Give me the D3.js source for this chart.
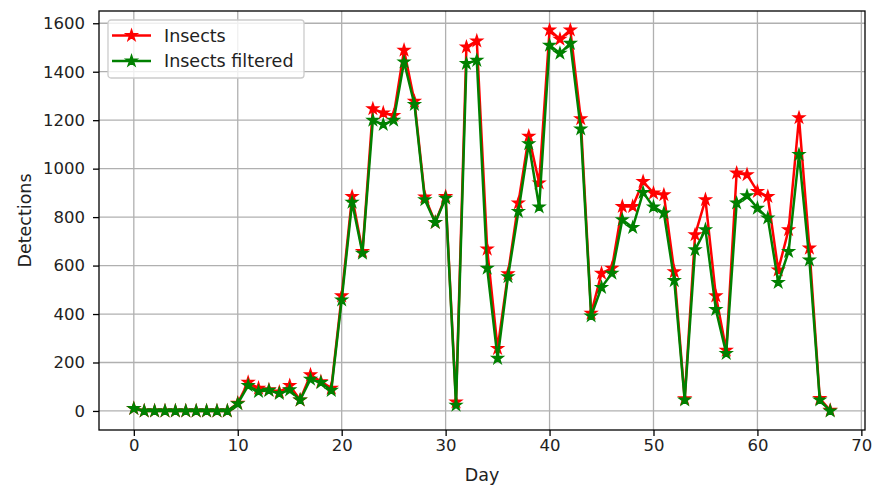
<!DOCTYPE html>
<html>
<head>
<meta charset="utf-8">
<script src="https://cdn.jsdelivr.net/npm/d3@7"></script>
<style>
  body { margin: 0; background: #fff; }
  svg text { font-family: "DejaVu Sans", sans-serif; fill: #222; }
</style>
</head>
<body>
<svg id="chart" width="873" height="486"></svg>
<script>
// detections per day
var insects = [10, 0, 0, 0, 0, 0, 0, 0, 0, 0,
    32, 118, 94, 87, 78, 105, 45, 149, 121, 94,
    475, 885, 658, 1247, 1230, 1219, 1489, 1278, 883, 778,
    885, 37, 1502, 1527, 668, 258, 566, 858, 1134, 941,
    1572, 1534, 1572, 1206, 403, 568, 589, 844, 844, 947,
    899, 892, 575, 50, 727, 872, 475, 251, 982, 975,
    906, 885, 582, 748, 1210, 672, 51, 3];
var insectsFiltered = [10, 0, 0, 0, 0, 0, 0, 0, 0, 0,
    30, 105, 80, 85, 72, 87, 45, 131, 117, 85,
    458, 861, 651, 1200, 1182, 1200, 1440, 1265, 872, 778,
    878, 24, 1434, 1447, 589, 217, 554, 823, 1103, 842,
    1509, 1476, 1517, 1164, 392, 510, 568, 789, 757, 902,
    842, 817, 538, 45, 665, 748, 419, 237, 858, 888,
    837, 796, 530, 658, 1058, 623, 45, 0];
var days = d3.range(insects.length);
var xTicks = [0, 10, 20, 30, 40, 50, 60, 70];
var yTicks = [0, 200, 400, 600, 800, 1000, 1200, 1400, 1600];
var seriesNames = ["Insects", "Insects filtered"];
var seriesColors = ["#ff0000", "#008000"];

var svg = d3.select("#chart");
var mLeft = 99, mRight = 865, mTop = 11, mBottom = 430;

// matplotlib style 5% margins
var xMax = d3.max(days);
var yMax = d3.max(insects.concat(insectsFiltered));
var x = d3.scaleLinear().domain([-0.05 * xMax, xMax * 1.05]).range([mLeft, mRight]);
var y = d3.scaleLinear().domain([-0.05 * yMax, yMax * 1.05]).range([mBottom, mTop]);

var g = svg.append("g");

// grid
g.append("g").selectAll("line").data(xTicks).enter().append("line")
    .attr("x1", function (d) { return x(d); }).attr("x2", function (d) { return x(d); })
    .attr("y1", mTop).attr("y2", mBottom)
    .attr("stroke", "#b0b0b0").attr("stroke-width", 1.3);
g.append("g").selectAll("line").data(yTicks).enter().append("line")
    .attr("y1", function (d) { return y(d); }).attr("y2", function (d) { return y(d); })
    .attr("x1", mLeft).attr("x2", mRight)
    .attr("stroke", "#b0b0b0").attr("stroke-width", 1.3);

// axes
var xAxis = g.append("g")
    .attr("transform", "translate(0," + mBottom + ")")
    .call(d3.axisBottom(x).tickValues(xTicks).tickFormat(d3.format("d")).tickSize(6).tickPadding(3));
var yAxis = g.append("g")
    .attr("transform", "translate(" + mLeft + ",0)")
    .call(d3.axisLeft(y).tickValues(yTicks).tickFormat(d3.format("d")).tickSize(6).tickPadding(8));
[xAxis, yAxis].forEach(function (a) {
    a.select(".domain").remove();
    a.selectAll("line").attr("stroke", "#000").attr("stroke-width", 1.3);
    a.selectAll("text").style("font-size", "16.5px").attr("fill", "#222")
        .style("font-family", "DejaVu Sans, sans-serif");
});

var star = d3.symbol().type(d3.symbolStar).size(36);

function drawSeries(values, color) {
    var line = d3.line()
        .x(function (d, i) { return x(days[i]); })
        .y(function (d) { return y(d); });
    g.append("path")
        .datum(values)
        .attr("d", line)
        .attr("fill", "none")
        .attr("stroke", color)
        .attr("stroke-width", 2.5)
        .attr("stroke-linejoin", "round");
    g.append("g").selectAll("path").data(values).enter().append("path")
        .attr("d", star)
        .attr("transform", function (d, i) { return "translate(" + x(days[i]) + "," + y(d) + ")"; })
        .attr("fill", color)
        .attr("stroke", color)
        .attr("stroke-width", 1.5)
        .attr("stroke-linejoin", "miter");
}
drawSeries(insects, seriesColors[0]);
drawSeries(insectsFiltered, seriesColors[1]);

// frame
g.append("rect")
    .attr("x", mLeft).attr("y", mTop)
    .attr("width", mRight - mLeft).attr("height", mBottom - mTop)
    .attr("fill", "none").attr("stroke", "#000").attr("stroke-width", 1.3);

// axis labels
svg.append("text")
    .attr("x", (mLeft + mRight) / 2).attr("y", 481)
    .attr("text-anchor", "middle")
    .style("font-size", "17.5px")
    .text("Day");
svg.append("text")
    .attr("transform", "translate(31," + (mTop + mBottom) / 2 + ") rotate(-90)")
    .attr("text-anchor", "middle")
    .style("font-size", "17.5px")
    .text("Detections");

// legend
var legend = svg.append("g").attr("transform", "translate(108,20)");
legend.append("rect")
    .attr("width", 196).attr("height", 58)
    .attr("rx", 3).attr("ry", 3)
    .attr("fill", "#fff").attr("fill-opacity", 0.8)
    .attr("stroke", "#cccccc").attr("stroke-width", 1.3);
var items = legend.selectAll(".item").data(seriesNames).enter().append("g")
    .attr("class", "item")
    .attr("transform", function (d, i) { return "translate(0," + (15.5 + i * 25.5) + ")"; });
items.append("line")
    .attr("x1", 4).attr("x2", 43)
    .attr("stroke", function (d, i) { return seriesColors[i]; })
    .attr("stroke-width", 2.5);
items.append("path")
    .attr("d", star)
    .attr("transform", "translate(23.5,0)")
    .attr("fill", function (d, i) { return seriesColors[i]; })
    .attr("stroke", function (d, i) { return seriesColors[i]; })
    .attr("stroke-width", 1.5);
items.append("text")
    .attr("x", 56).attr("y", 6)
    .style("font-size", "17.5px")
    .text(function (d) { return d; });
</script>
</body>
</html>
